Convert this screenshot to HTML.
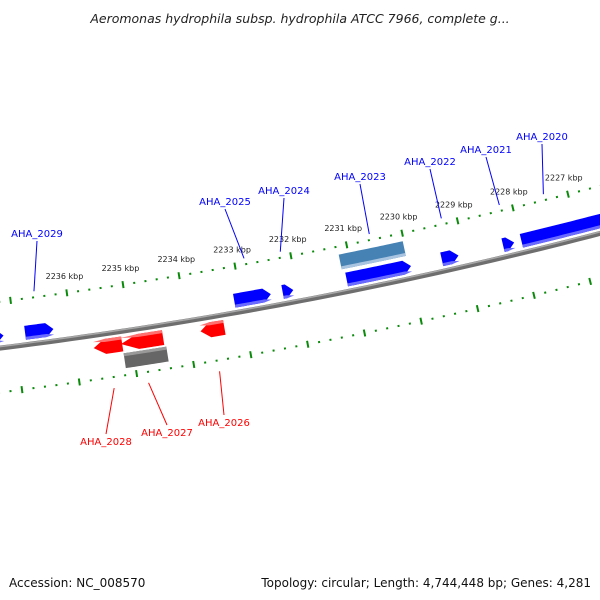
<!DOCTYPE html>
<html><head><meta charset="utf-8"><style>
html,body{margin:0;padding:0;background:#fff;}
svg{display:block;font-family:"DejaVu Sans","Liberation Sans",sans-serif;}
</style></head><body>
<svg id="map" width="600" height="600" viewBox="0 0 600 600" xmlns="http://www.w3.org/2000/svg">
<text x="300" y="23" text-anchor="middle" font-size="12.5" font-style="italic" fill="#222">Aeromonas hydrophila subsp. hydrophila ATCC 7966, complete g...</text>
<text x="9" y="587" font-size="12" fill="#111">Accession: NC_008570</text>
<text x="591" y="587" text-anchor="end" font-size="12" fill="#111">Topology: circular; Length: 4,744,448 bp; Genes: 4,281</text>
<g id="layer"></g>
</svg>
<script>
const tickKbp=[2236,2235,2234,2233,2232,2231,2230,2229,2228,2227];
const tickLabels=["2236 kbp","2235 kbp","2234 kbp","2233 kbp","2232 kbp","2231 kbp","2230 kbp","2229 kbp","2228 kbp","2227 kbp"];
const geneNames=["gene-edge","AHA_2029","AHA_2025","AHA_2024","AHA_2023","AHA_2023b","AHA_2022","AHA_2021","AHA_2020","AHA_2028","AHA_2027","AHA_2027b","AHA_2026"];
const geneHigh=[2237.45,2236.82,2233.12,2232.26,2231.12,2231.17,2229.42,2228.32,2227.99,2235.67,2235.19,2235.17,2233.79];
const geneLow=[2237.2,2236.32,2232.47,2232.07,2229.97,2230.02,2229.12,2228.12,2226.4,2235.17,2234.45,2234.42,2233.37];
const geneKind=["fwd","fwd","fwd","fwd","fwd","misc","fwd","fwd","fwd","rev","rev","gray","rev"];
const labelNames=["AHA_2029","AHA_2025","AHA_2024","AHA_2023","AHA_2022","AHA_2021","AHA_2020","AHA_2028","AHA_2027","AHA_2026"];
const labelKbp=[2236.57,2232.82,2232.17,2230.57,2229.27,2228.22,2227.42,2235.42,2234.82,2233.58];
const labelStrand=["fwd","fwd","fwd","fwd","fwd","fwd","fwd","rev","rev","rev"];
const labelX=[37,225,284,360,430,486,542,106,167,224];
const labelY=[237,205,194,180,165,153,140,445,436,426];

const NS="http://www.w3.org/2000/svg";
const R=4700,CX=-580,CY=-4316;
const layer=document.getElementById('layer');
function ang(k){return (75.72+(k-2227)*0.699)*Math.PI/180;}
function pt(k,r){const a=ang(k);return [CX+r*Math.cos(a),CY+r*Math.sin(a)];}
function mk(tag,attrs){const e=document.createElementNS(NS,tag);for(const k in attrs)e.setAttribute(k,attrs[k]);layer.appendChild(e);return e;}
function arcPath(k1,k2,r){let d="";const n=60;for(let i=0;i<=n;i++){const k=k1+(k2-k1)*i/n;const p=pt(k,r);d+=(i?"L":"M")+p[0].toFixed(2)+","+p[1].toFixed(2);}return d;}

let bb=mk('path',{d:arcPath(2238.5,2225,R),stroke:"#6e6e6e",'stroke-width':5,fill:"none"});


let bh=mk('path',{d:arcPath(2238.5,2225,R-1.5),stroke:"#a8a8a8",'stroke-width':1.5,fill:"none"});



[[R-46,'outer'],[R+44,'inner']].forEach(([r,nm])=>{
  for(let k=2238;k>=2225;k-=0.2){
    const kk=Math.round(k*10)/10;
    const major=Math.abs(kk-Math.round(kk))<0.01;
    const len=major?7:2;
    const a=pt(kk,r-len/2),b=pt(kk,r+len/2);
    const t=mk('line',{x1:a[0],y1:a[1],x2:b[0],y2:b[1],stroke:"#0a8a0a",'stroke-width':2});
    
    
  }
});
tickKbp.forEach((k,i)=>{
  const p=pt(k,R-63);
  const t=mk('text',{x:p[0],y:p[1]+3,'text-anchor':'middle','font-size':8,fill:"#222"});
  t.textContent=tickLabels[i];
  
  
});

const styles={fwd:{r1:R-19,r2:R-5,fill:"#0000ff",hl:"#6a6aff",hlSide:2,dir:1},
 misc:{r1:R-38,r2:R-23,fill:"#4682b4",hl:"#a8c4e0",hlSide:2,dir:0},
 rev:{r1:R+5,r2:R+20,fill:"#ff0000",hl:"#ff7070",hlSide:1,dir:-1},
 gray:{r1:R+22,r2:R+37,fill:"#666666",hl:"#999999",hlSide:1,dir:0}};
function genePoly(kh,kl,s){
  const head=0.13;const pts=[];const n=20;
  if(s.dir===1){
    const kb=Math.max(kl+head,kh-(kh-kl)*0.7>kl+head?kl+head:kh-(kh-kl)*0.6);
    for(let i=0;i<=n;i++){pts.push(pt(kh+(kb-kh)*i/n,s.r1));}
    pts.push(pt(kl,(s.r1+s.r2)/2));
    for(let i=0;i<=n;i++){pts.push(pt(kb+(kh-kb)*i/n,s.r2));}
  }else if(s.dir===-1){
    const kb=Math.min(kh-head,kl+(kh-kl)*0.6);
    for(let i=0;i<=n;i++){pts.push(pt(kb+(kl-kb)*i/n,s.r1));}
    for(let i=0;i<=n;i++){pts.push(pt(kl+(kb-kl)*i/n,s.r2));}
    pts.push(pt(kh,(s.r1+s.r2)/2));
  }else{
    for(let i=0;i<=n;i++){pts.push(pt(kh+(kl-kh)*i/n,s.r1));}
    for(let i=0;i<=n;i++){pts.push(pt(kl+(kh-kl)*i/n,s.r2));}
  }
  return pts.map(p=>p[0].toFixed(2)+","+p[1].toFixed(2)).join(" ");
}
geneNames.forEach((nm,i)=>{
  const s=styles[geneKind[i]];
  const g=mk('polygon',{points:genePoly(geneHigh[i],geneLow[i],s),fill:s.fill});
  
  
  const hs={...s};
  if(s.hlSide===2){hs.r1=s.r2-3;}else{hs.r2=s.r1+3;}
  const h=mk('polygon',{points:genePoly(geneHigh[i],geneLow[i],hs),fill:s.hl});
  
  
});

labelNames.forEach((nm,i)=>{
  const fwd=labelStrand[i]==="fwd";
  const col=fwd?"#0000ff":"#ff0000";
  const p=pt(labelKbp[i],fwd?R-52:R+55);
  const ly=fwd?labelY[i]+4:labelY[i]-11;
  const l=mk('line',{x1:p[0],y1:p[1],x2:labelX[i],y2:ly,stroke:col,'stroke-width':1});
  
  
  const t=mk('text',{x:labelX[i],y:labelY[i],'text-anchor':'middle','font-size':10,fill:col});
  t.textContent=nm;
  
  
});
</script>
</body></html>
